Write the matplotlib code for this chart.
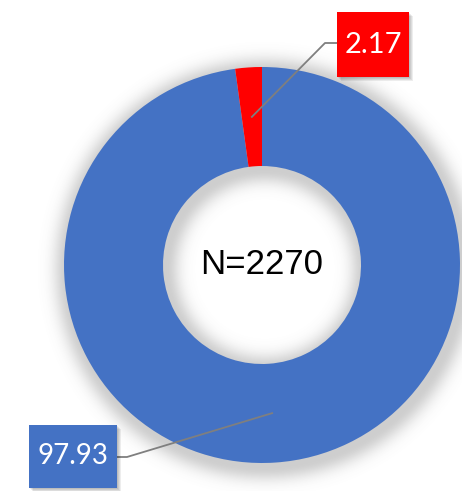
import numpy as np
import matplotlib.pyplot as plt
from matplotlib.patches import Rectangle

W, H = 462, 491

values = [97.93, 2.17]
labels = ['97.93', '2.17']
colors = ['#4472C4', '#FF0000']
center_text = 'N=2270'

# layout (pixels, image coords with y down)
cx, cy = 262, 265
r_out, r_in = 198, 99
boxes = [(29, 425, 88, 63), (337, 12, 72, 65)]   # x, y, w, h
elbows = [(127, 457), (325, 43)]


def Y(y):
    return H - y


fig = plt.figure(figsize=(W / 100, H / 100), dpi=100)
ax = fig.add_axes([0, 0, 1, 1])
ax.set_xlim(0, W)
ax.set_ylim(0, H)
ax.set_aspect('equal')
ax.axis('off')

# soft shadow around the ring
xx, yy = np.meshgrid(np.arange(W) + 0.5, np.arange(H) + 0.5)
rr = np.hypot(xx - (cx + 3), yy - (cy + 4))
d = np.maximum(np.maximum(rr - r_out, r_in - rr), 0)
alpha = 0.32 * np.exp(-(d / 14.0) ** 2)
shadow = np.zeros((H, W, 4))
shadow[..., :3] = 0.4
shadow[..., 3] = alpha
ax.imshow(shadow, extent=(0, W, 0, H), origin='upper', zorder=0)

wedges, _ = ax.pie(values, colors=colors, startangle=90, counterclock=False,
                   radius=r_out, center=(cx, Y(cy)),
                   wedgeprops=dict(width=r_out - r_in, linewidth=0))
ax.set_xlim(0, W)
ax.set_ylim(0, H)

ax.text(cx, Y(cy), center_text, ha='center', va='center', fontsize=25,
        family='Liberation Sans', color='black', zorder=5)

r_mid = (r_out + r_in) / 2
for w, lab, col, (bx, by, bw, bh), (ex, ey) in zip(wedges, labels, colors, boxes, elbows):
    ang = np.deg2rad((w.theta1 + w.theta2) / 2)
    ax_x = cx + r_mid * np.cos(ang)
    ax_y = Y(cy) + r_mid * np.sin(ang)
    # box edge where the leader attaches
    if bx > cx:
        sx = bx
    else:
        sx = bx + bw
    ax.plot([ax_x, ex, sx], [ax_y, Y(ey), Y(ey)], color='#7F7F7F', lw=1.3, zorder=4)
    for k in range(4, 0, -1):
        ax.add_patch(Rectangle((bx + k, Y(by + bh) - k), bw, bh, facecolor='black',
                               alpha=0.07, linewidth=0, zorder=5))
    ax.add_patch(Rectangle((bx, Y(by + bh)), bw, bh, facecolor=col, linewidth=0, zorder=6))
    ax.text(bx + bw / 2, Y(by + bh / 2), lab, ha='center', va='center',
            fontsize=21 if bw < 80 else 20, color='white', family='Lato', zorder=7)

fig.savefig('out.png', dpi=100)
